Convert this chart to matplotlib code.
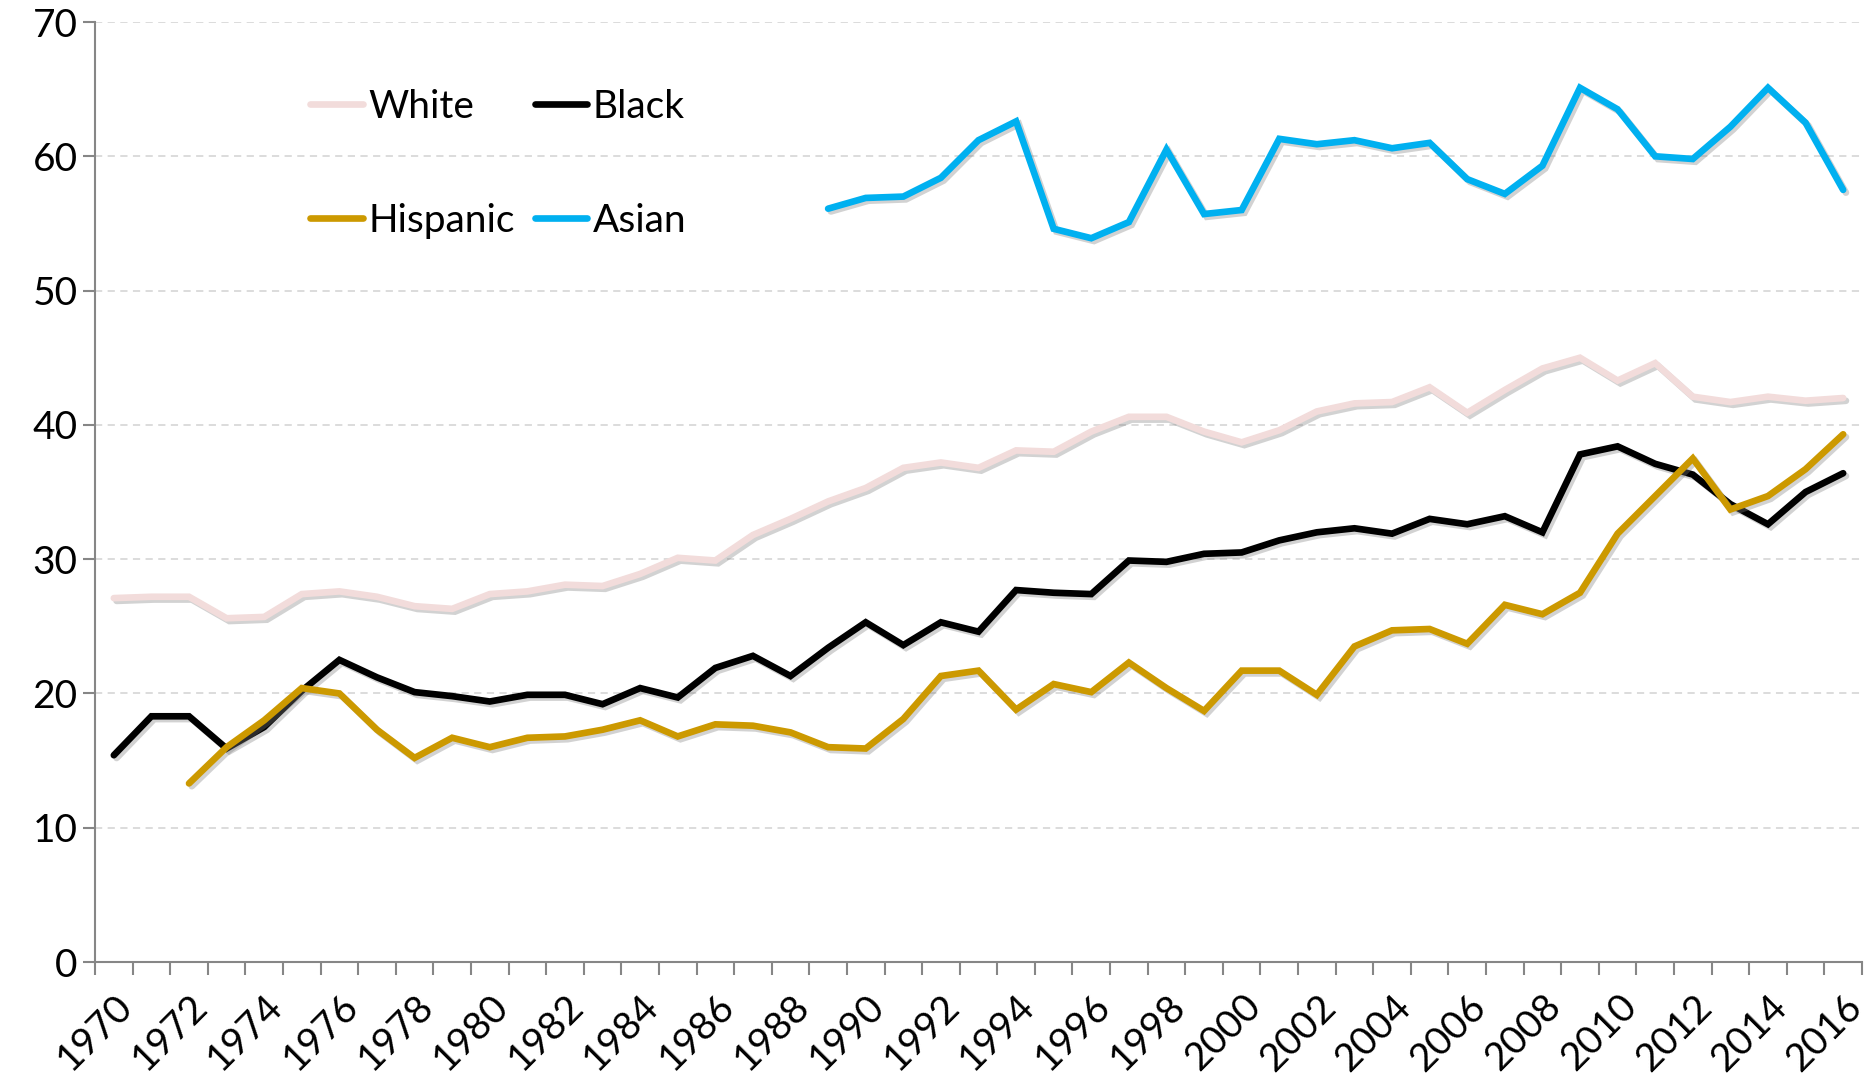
import matplotlib
matplotlib.use("Agg")
import matplotlib.pyplot as plt
import matplotlib.patheffects as pe
import matplotlib.transforms as mtransforms
import numpy as np

years = list(range(1970, 2017))

white = [27.1, 27.2, 27.2, 25.6, 25.7, 27.4, 27.6, 27.2, 26.5, 26.3,
         27.4, 27.6, 28.1, 28.0, 28.9, 30.1, 29.9, 31.8, 33.0, 34.3,
         35.3, 36.8, 37.2, 36.8, 38.1, 38.0, 39.5, 40.6, 40.6, 39.5,
         38.7, 39.6, 41.0, 41.6, 41.7, 42.8, 40.9, 42.6, 44.2, 45.0,
         43.3, 44.6, 42.1, 41.7, 42.1, 41.8, 42.0]

black = [15.4, 18.3, 18.3, 15.9, 17.5, 20.2, 22.5, 21.2, 20.1, 19.8,
         19.4, 19.9, 19.9, 19.2, 20.4, 19.7, 21.9, 22.8, 21.3, 23.4,
         25.3, 23.6, 25.3, 24.6, 27.7, 27.5, 27.4, 29.9, 29.8, 30.4,
         30.5, 31.4, 32.0, 32.3, 31.9, 33.0, 32.6, 33.2, 32.0, 37.8,
         38.4, 37.1, 36.3, 34.1, 32.6, 35.0, 36.4]

hispanic = [None, None, 13.3, 16.0, 18.0, 20.4, 20.0, 17.3, 15.2, 16.7,
            16.0, 16.7, 16.8, 17.3, 18.0, 16.8, 17.7, 17.6, 17.1, 16.0,
            15.9, 18.1, 21.3, 21.7, 18.8, 20.7, 20.1, 22.3, 20.4, 18.7,
            21.7, 21.7, 19.9, 23.5, 24.7, 24.8, 23.7, 26.6, 25.9, 27.5,
            31.9, 34.7, 37.5, 33.7, 34.7, 36.7, 39.3]

asian = [None] * 19 + [56.1, 56.9, 57.0, 58.4, 61.2, 62.6, 54.6, 53.9, 55.1,
                       60.5, 55.7, 56.0, 61.3, 60.9, 61.2, 60.6, 61.0, 58.3,
                       57.2, 59.3, 65.1, 63.5, 60.0, 59.8, 62.2, 65.1, 62.5,
                       57.5]

series_names = ["White", "Black", "Hispanic", "Asian"]
series_colors = ["#F2DCDB", "#000000", "#CC9900", "#00B0F0"]
yticks = [0, 10, 20, 30, 40, 50, 60, 70]

plt.rcParams['font.family'] = ['Lato', 'DejaVu Sans']
FS = 28

fig = plt.figure(figsize=(18.67, 10.79), dpi=100)
ax = fig.add_axes([0.0509, 0.1084, 0.9464, 0.8712])

x = np.arange(len(years))
shadow = [pe.SimpleLineShadow(offset=(2, -2), shadow_color='gray', alpha=0.35), pe.Normal()]
lines = []
for name, col, vals in zip(series_names, series_colors, [white, black, hispanic, asian]):
    v = np.array([np.nan if a is None else a for a in vals], dtype=float)
    ln, = ax.plot(x, v, color=col, lw=4.8, label=name, solid_joinstyle='miter',
                  solid_capstyle='round', path_effects=shadow)
    lines.append(ln)

ax.set_xlim(-0.5, len(years) - 0.5)
ax.set_ylim(0, 70)
ax.set_yticks(yticks)
ax.set_yticklabels([str(t) for t in yticks], fontsize=FS)
ax.yaxis.grid(True, linestyle=(0, (4, 3)), color='#D9D9D9', lw=1.3)
ax.set_axisbelow(True)

ax.set_xticks(x[::2])
ax.set_xticks(np.arange(-0.5, len(years), 1.0), minor=True)
ax.tick_params(axis='x', which='major', length=0, pad=28)
ax.tick_params(axis='x', which='minor', length=9.5, width=1.5, color='#868686')
ax.tick_params(axis='y', which='major', length=8.5, width=1.5, color='#868686', pad=4)
ax.set_xticklabels([str(y) for y in years[::2]], fontsize=FS, rotation=45,
                   ha='right', va='center', rotation_mode='anchor')
offset = mtransforms.ScaledTranslation(13 / 100, 0, fig.dpi_scale_trans)
for lab in ax.get_xticklabels():
    lab.set_transform(lab.get_transform() + offset)

for s in ['top', 'right']:
    ax.spines[s].set_visible(False)
for s in ['left', 'bottom']:
    ax.spines[s].set_color('#868686')
    ax.spines[s].set_linewidth(1.5)

# legend in row order: White, Black / Hispanic, Asian
leg = ax.legend([lines[0], lines[2], lines[1], lines[3]],
                ["White", "Hispanic", "Black", "Asian"],
                ncol=2, loc='upper left', bbox_to_anchor=(0.102, 0.966),
                frameon=False, fontsize=FS, handlelength=1.35, handletextpad=0.15,
                columnspacing=0.5, labelspacing=2.0)
for h in leg.legend_handles:
    h.set_path_effects([])

fig.savefig("out.png", dpi=100)
